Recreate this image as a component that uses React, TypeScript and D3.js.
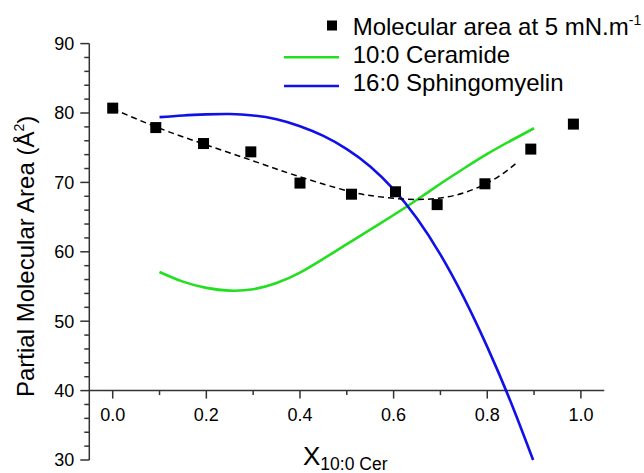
import React from "react";
import * as d3 from "d3";

// Measured data (molecular area at 5 mN/m)
const xMeasured = [0.0, 0.092, 0.194, 0.295, 0.4, 0.51, 0.604, 0.693, 0.795, 0.893, 0.984];
const areaMeasured = [80.7, 77.9, 75.6, 74.4, 69.9, 68.3, 68.65, 66.8, 69.8, 74.8, 78.4];

// Dashed fit through measured data
const fitX = [0, 0.1, 0.2, 0.3, 0.4, 0.5, 0.55, 0.6, 0.65, 0.7, 0.75, 0.8, 0.84, 0.866];
const fitY = [80.6, 77.8, 75.4, 73.1, 70.8, 68.8, 68.1, 67.7, 67.55, 67.75, 68.5, 69.9, 71.6, 73.0];

// Partial molecular area curves
const curveX = [0.1, 0.15, 0.2, 0.25, 0.3, 0.35, 0.4, 0.45, 0.5, 0.55, 0.6, 0.65, 0.7, 0.75, 0.8, 0.85, 0.9];
const ceramide = [57.1, 55.7, 54.8, 54.4, 54.6, 55.5, 57.0, 59.0, 61.1, 63.2, 65.3, 67.5, 69.8, 72.0, 74.1, 76.0, 77.8];
const sphX = [0.1, 0.15, 0.2, 0.25, 0.3, 0.35, 0.4, 0.45, 0.5, 0.55, 0.6, 0.65, 0.7, 0.75, 0.8, 0.85, 0.898];
const sphingomyelin = [79.4, 79.65, 79.8, 79.85, 79.65, 79.1, 78.1, 76.7, 74.8, 72.3, 69.0, 64.8, 59.6, 53.4, 46.3, 38.4, 30.0];

const xMajor = [0, 0.2, 0.4, 0.6, 0.8, 1.0];
const xMinor = [0.1, 0.3, 0.5, 0.7, 0.9];
const yMajor = [30, 40, 50, 60, 70, 80, 90];
const yMinor = [32, 34, 36, 38, 42, 44, 46, 48, 52, 54, 56, 58, 62, 64, 66, 68, 72, 74, 76, 78, 82, 84, 86, 88];

const legendLabels = ["Molecular area at 5 mN.m", "10:0 Ceramide", "16:0 Sphingomyelin"];

const FONT = "'Liberation Sans', Arial, Helvetica, sans-serif";

export default function App() {
  const x = d3.scaleLinear().domain([-0.05, 1.05]).range([89.3, 604.3]);
  const y = d3.scaleLinear().domain([30, 90]).range([460, 43.6]);

  const line = d3
    .line<[number, number]>()
    .x((d) => x(d[0]))
    .y((d) => y(d[1]))
    .curve(d3.curveNatural);

  const fitPath = line(fitX.map((v, i) => [v, fitY[i]]) as [number, number][]) || "";
  const cerPath = line(curveX.map((v, i) => [v, ceramide[i]]) as [number, number][]) || "";
  const sphPath = line(sphX.map((v, i) => [v, sphingomyelin[i]]) as [number, number][]) || "";

  const axisColor = "#333";
  const x0 = x(-0.05);
  const yAxisY = y(40);
  const sq = 11;

  return (
    <svg
      width={644}
      height={473}
      style={{ position: "absolute", left: 0, top: 0, background: "#fff" }}
      fontFamily={FONT}
    >
      <rect x={0} y={0} width={644} height={473} fill="#fff" />
      {/* Y axis */}
      <line x1={x0} x2={x0} y1={y(30)} y2={y(90)} stroke={axisColor} strokeWidth={1.5} />
      {yMajor.map((v) => (
        <g key={"ym" + v}>
          <line x1={x0 - 9} x2={x0} y1={y(v)} y2={y(v)} stroke={axisColor} strokeWidth={1.5} />
          <text x={x0 - 15} y={y(v)} dy="0.35em" textAnchor="end" fontSize={18} fill="#000">
            {v}
          </text>
        </g>
      ))}
      {yMinor.map((v) => (
        <line key={"yn" + v} x1={x0 - 5} x2={x0} y1={y(v)} y2={y(v)} stroke={axisColor} strokeWidth={1.5} />
      ))}
      {/* X axis at y = 40 */}
      <line x1={x0} x2={x(1.05)} y1={yAxisY} y2={yAxisY} stroke={axisColor} strokeWidth={1.5} />
      {xMajor.map((v) => (
        <g key={"xm" + v}>
          <line x1={x(v)} x2={x(v)} y1={yAxisY} y2={yAxisY + 8} stroke={axisColor} strokeWidth={1.5} />
          <text x={x(v)} y={421} textAnchor="middle" fontSize={18} fill="#000">
            {v.toFixed(1)}
          </text>
        </g>
      ))}
      {xMinor.map((v) => (
        <line key={"xn" + v} x1={x(v)} x2={x(v)} y1={yAxisY} y2={yAxisY + 4.5} stroke={axisColor} strokeWidth={1.5} />
      ))}

      {/* Curves */}
      <path d={cerPath} fill="none" stroke="#22e01f" strokeWidth={2.6} />
      <path d={sphPath} fill="none" stroke="#1010e8" strokeWidth={2.6} />
      <path d={fitPath} fill="none" stroke="#000" strokeWidth={1.5} strokeDasharray="6,4" />

      {/* Measured points */}
      {xMeasured.map((v, i) => (
        <rect
          key={"p" + i}
          x={x(v) - sq / 2}
          y={y(areaMeasured[i]) - sq / 2}
          width={sq}
          height={sq}
          fill="#000"
        />
      ))}

      {/* Legend */}
      <rect x={327} y={20.5} width={10} height={10} fill="#000" />
      <text x={352.7} y={35} fontSize={24} fill="#000">
        {legendLabels[0]}
        <tspan fontSize={14} dy={-10}>-1</tspan>
      </text>
      <line x1={284} x2={339} y1={57.3} y2={57.3} stroke="#22e01f" strokeWidth={2.6} />
      <text x={352.7} y={63.3} fontSize={24} fill="#000">
        {legendLabels[1]}
      </text>
      <line x1={284} x2={339} y1={86} y2={86} stroke="#1010e8" strokeWidth={2.6} />
      <text x={352.7} y={91} fontSize={24} fill="#000">
        {legendLabels[2]}
      </text>

      {/* Axis titles */}
      <text x={303} y={465} fontSize={26} fill="#000">
        X<tspan fontSize={17.5} dy={5}>10:0 Cer</tspan>
      </text>
      <text transform="translate(34,397) rotate(-90)" fontSize={24} fill="#000">
        Partial Molecular Area (Å<tspan fontSize={14} dy={-10}>2</tspan>
        <tspan dy={10}>)</tspan>
      </text>
    </svg>
  );
}
